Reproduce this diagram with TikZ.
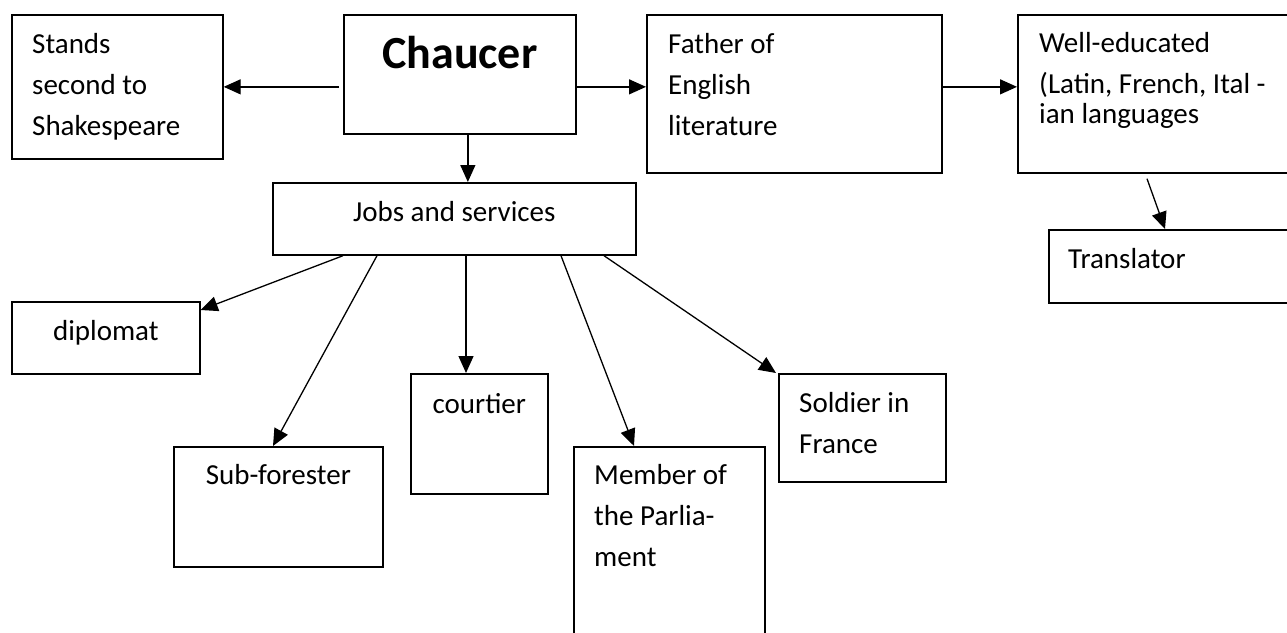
\documentclass[tikz,border=0pt]{standalone}
\usepackage{fontspec}
\setmainfont{Carlito}
\usetikzlibrary{arrows.meta,positioning}

\begin{document}
\begin{tikzpicture}[x=1pt,y=-1pt,>={Triangle[length=17pt,width=15pt]},
    box/.style 2 args={draw,line width=1.7pt,anchor=north west,inner sep=0pt,
      minimum width=#1pt,minimum height=#2pt},
    txt/.style={inner sep=0pt,text width=260pt,align=flush left,anchor=base west,
      font=\fontsize{29}{41}\selectfont},
    ctxt/.style={txt,align=flush center,anchor=base}]

  \useasboundingbox (0,0) rectangle (1287,632);

  % frames
  \node[box={211}{144}] (stands) at (11,14) {};
  \node[box={232}{119}] (chaucer) at (343,14) {};
  \node[box={295}{158}] (father) at (646,14) {};
  \node[box={280}{158}] (educ) at (1017,14) {};
  \node[box={250}{73}] (transl) at (1048,229) {};
  \node[box={363}{72}] (jobs) at (272,182) {};
  \node[box={188}{72}] (diplo) at (11,301) {};
  \node[box={209}{120}] (subf) at (173,446) {};
  \node[box={137}{120}] (court) at (410,373) {};
  \node[box={191}{210}] (mp) at (573,446) {};
  \node[box={167}{108}] (soldier) at (778,373) {};

  % texts
  \node[txt] (standsT) at ([shift={(21,39)}]stands.north west) {Stands\\second to\\Shakespeare};
  \node[ctxt,font=\fontsize{46}{55}\selectfont\bfseries] (chaucerT) at ([shift={(0,54)}]chaucer.north) {Chaucer};
  \node[txt] (fatherT) at ([shift={(22,39)}]father.north west) {Father of\\English\\literature};
  \node[txt] (educT) at ([shift={(22,38)}]educ.north west) {Well-educated\\(Latin, French, Ital -\\[-11pt]ian languages};
  \node[txt] (translT) at ([shift={(20,39)}]transl.north west) {Translator};
  \node[ctxt] (jobsT) at ([shift={(0,39)}]jobs.north) {Jobs and services};
  \node[ctxt] (diploT) at ([shift={(0,39)}]diplo.north) {diplomat};
  \node[ctxt] (subfT) at ([shift={(0,38)}]subf.north) {Sub-forester};
  \node[ctxt] (courtT) at ([shift={(0,40)}]court.north) {courtier};
  \node[txt] (mpT) at ([shift={(21,38)}]mp.north west) {Member of\\the Parlia-\\ment};
  \node[txt] (soldierT) at ([shift={(21,39)}]soldier.north west) {Soldier in\\France};

  \path[->,line width=1.3pt]
    (chaucer.west |- stands.east) edge[shorten <=4pt] (stands.east)
    (chaucer.east |- stands.east) edge (father.west |- stands.east)
    (father.east |- stands.east) edge (educ.west |- stands.east)
    ([xshift=8pt]chaucer.south) edge ([xshift=13.5pt]jobs.north)
    ([shift={(130,5)}]educ.south west) edge ([xshift=117pt]transl.north west)
    ([xshift=71pt]jobs.south west) edge ([yshift=-9pt]diplo.north east)
    ([xshift=105pt]jobs.south west) edge ([xshift=100pt]subf.north west)
    ([xshift=194pt]jobs.south west) edge ([xshift=56pt]court.north west)
    ([xshift=289pt]jobs.south west) edge ([xshift=61pt]mp.north west)
    ([xshift=332pt]jobs.south west) edge ([xshift=-2pt]soldier.north west);

\end{tikzpicture}
\end{document}
